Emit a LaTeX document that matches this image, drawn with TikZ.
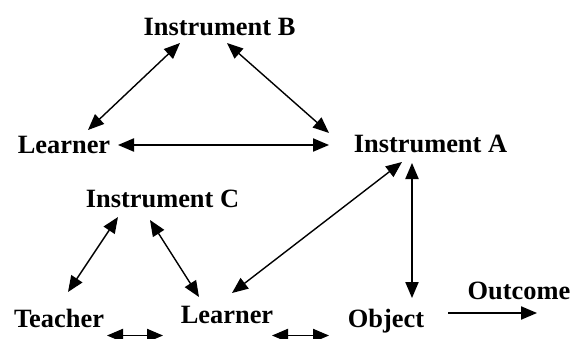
\documentclass[tikz,border=0pt]{standalone}
\usepackage{fontspec}
\setmainfont{Liberation Serif}
\usepackage{tikz}
\usetikzlibrary{arrows.meta,calc}

\begin{document}
\begin{tikzpicture}[x=0.5pt,y=-0.5pt,
    lbl/.style={anchor=base, inner sep=0pt, font=\bfseries\fontsize{13.2}{15}\selectfont},
    biarr/.style={line width=0.7pt, {Triangle[length=8pt,width=6.6pt]}-{Triangle[length=8pt,width=6.6pt]}},
    onearr/.style={line width=0.7pt, -{Triangle[length=8pt,width=6.6pt]}}]
  \useasboundingbox (0,0) rectangle (574,338);
  \clip (0,0) rectangle (574,338);
  \node[lbl] (instB) at (219.5,35) {Instrument B};
  \node[lbl] (learnA) at (64,153) {Learner};
  \node[lbl] (instA) at (430.5,152) {Instrument A};
  \node[lbl] (instC) at (162.5,207) {Instrument C};
  \node[lbl] (teacher) at (59,327) {Teacher};
  \node[lbl] (learnB) at (227,323) {Learner};
  \node[lbl] (object) at (386,327) {Object};
  \node[lbl] (outcome) at (519,299) {Outcome};
  \coordinate (outEnd) at (537,313);

  \draw[biarr] ($(learnA.base)+(24,-23)$) -- ($(instB.base)+(-39.5,8)$);
  \draw[biarr] ($(instB.base)+(7.5,8)$) -- ($(instA.base)+(-101.5,-19)$);
  \draw[biarr] ($(learnA.base)+(54,-8)$) -- ($(instA.base)+(-101.5,-7)$);
  \draw[biarr] ($(instA.base)+(-28.5,10)$) -- ($(learnB.base)+(5,-30)$);
  \draw[biarr] ($(instA.base)+(-18.5,11)$) -- ($(object.base)+(26,-29)$);
  \draw[biarr] ($(instC.base)+(-44.5,10)$) -- ($(teacher.base)+(9,-35)$);
  \draw[biarr] ($(instC.base)+(-12.5,13)$) -- ($(learnB.base)+(-28,-26)$);
  \draw[biarr] ($(teacher.base)+(48,8.5)$) -- ($(learnB.base)+(-64,12.5)$);
  \draw[biarr] ($(learnB.base)+(45,12.5)$) -- ($(object.base)+(-57,8.5)$);
  \draw[onearr] ($(object.base)+(62,-14)$) -- (outEnd);
\end{tikzpicture}
\end{document}
